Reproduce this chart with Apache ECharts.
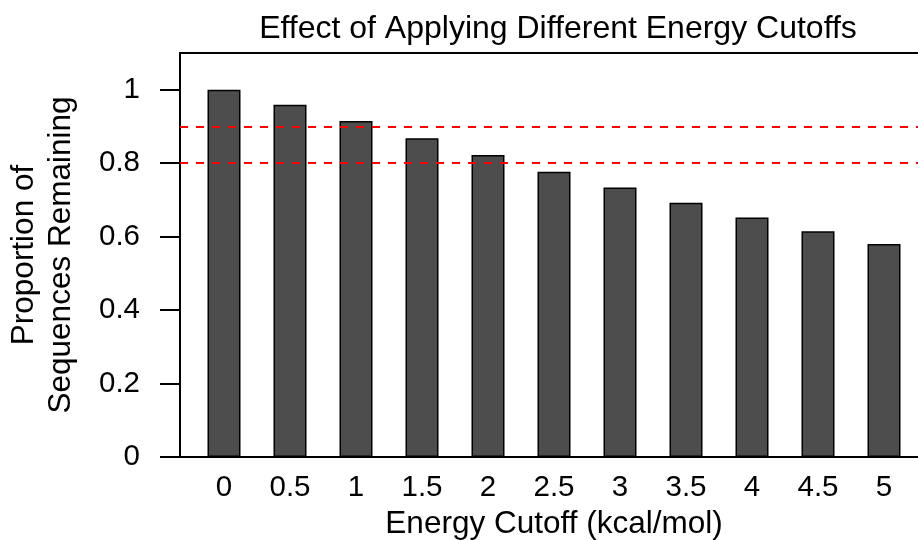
<!DOCTYPE html>
<html>
<head>
<meta charset="utf-8">
<script src="https://cdn.jsdelivr.net/npm/echarts@6/dist/echarts.min.js"></script>
<style>
  html, body { margin: 0; padding: 0; background: #fff; }
  #chart { width: 918px; height: 540px; }
</style>
</head>
<body>
<div id="chart"></div>
<script>
// data
var cutoffs = ['0', '0.5', '1', '1.5', '2', '2.5', '3', '3.5', '4', '4.5', '5'];
var remaining = [1.0, 0.959, 0.915, 0.868, 0.822, 0.777, 0.734, 0.692, 0.652, 0.615, 0.580];
var yTicks = [0, 0.2, 0.4, 0.6, 0.8, 1];
var refLines = [0.9, 0.8];

var font = 'Liberation Sans, Arial, Helvetica, sans-serif';
var chart = echarts.init(document.getElementById('chart'));

var option = {
    animation: false,
    backgroundColor: '#fff',
    title: {
        text: 'Effect of Applying Different Energy Cutoffs',
        left: 553,
        textAlign: 'center',
        top: 8,
        textStyle: { fontFamily: font, fontSize: 32, fontWeight: 'normal', color: '#000' }
    },
    grid: [
        // plot box (R style), runs off the right edge
        { left: 180, top: 53, right: -10, bottom: 83, outerBoundsMode: 'none', show: true, borderColor: '#000', borderWidth: 2, backgroundColor: 'transparent' },
        // bars
        { left: 191, top: 53, width: 726, bottom: 83, outerBoundsMode: 'none' }
    ],
    xAxis: [
        { gridIndex: 0, type: 'value', min: 0, max: 1, show: false },
        {
            gridIndex: 1,
            type: 'category',
            data: cutoffs,
            axisLine: { show: false },
            axisTick: { alignWithLabel: true, length: 12, lineStyle: { color: '#000', width: 2 } },
            axisLabel: { margin: 16, fontFamily: font, fontSize: 29.5, color: '#000' },
            name: 'Energy Cutoff (kcal/mol)',
            nameLocation: 'middle',
            nameGap: 42,
            nameTextStyle: { fontFamily: font, fontSize: 31.5, color: '#000' }
        }
    ],
    yAxis: [
        {
            gridIndex: 0,
            type: 'value',
            min: 0,
            max: 1.1,
            splitLine: { show: false },
            axisLine: { show: false },
            axisTick: { show: true, length: 20, customValues: yTicks, lineStyle: { color: '#000', width: 2 } },
            axisLabel: { margin: 40, customValues: yTicks, fontFamily: font, fontSize: 29.5, color: '#000' },
            name: 'Proportion of\nSequences Remaining',
            nameLocation: 'middle',
            nameGap: 100,
            nameTextStyle: { fontFamily: font, fontSize: 31.5, color: '#000', lineHeight: 37 }
        },
        { gridIndex: 1, type: 'value', min: 0, max: 1.1, show: false }
    ],
    series: [
        {
            type: 'bar',
            xAxisIndex: 1,
            yAxisIndex: 1,
            data: remaining,
            barWidth: '50%',
            itemStyle: { color: '#4d4d4d', borderColor: '#000', borderWidth: 1.5 }
        },
        {
            type: 'line',
            xAxisIndex: 0,
            yAxisIndex: 0,
            data: [],
            silent: true,
            markLine: {
                silent: true,
                symbol: 'none',
                label: { show: false },
                lineStyle: { color: '#ff0000', type: [8, 8], width: 2 },
                data: refLines.map(function (v) { return { yAxis: v }; })
            }
        }
    ]
};
chart.setOption(option);
</script>
</body>
</html>
